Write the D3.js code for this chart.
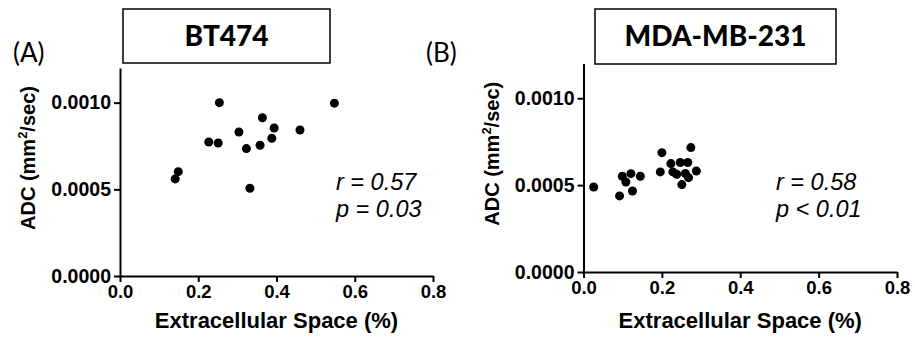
<!DOCTYPE html>
<html>
<head>
<meta charset="utf-8">
<script src="https://cdn.jsdelivr.net/npm/d3@7"></script>
<style>
  body { margin: 0; background: #fff; }
  svg { display: block; }
  .axis path, .axis line { stroke: #000; stroke-width: 2; }
  .axis text { font-family: "Liberation Sans", Arial, sans-serif; font-weight: bold; fill: #000; }
</style>
</head>
<body>
<svg id="chart"></svg>
<script>
// BT474 points (extracellular space fraction, ADC mm^2/sec)
const bt474X = [0.254, 0.364, 0.394, 0.304, 0.227, 0.251, 0.388, 0.358, 0.323, 0.149, 0.141, 0.332, 0.548, 0.460];
const bt474Y = [0.00100, 0.000913, 0.000854, 0.000831, 0.000773, 0.000767, 0.000795, 0.000754, 0.000735, 0.000602, 0.000560, 0.000506, 0.000997, 0.000842];

// MDA-MB-231 points
const mdaX = [0.026, 0.092, 0.099, 0.108, 0.121, 0.125, 0.145, 0.200, 0.274, 0.223, 0.247, 0.266, 0.196, 0.228, 0.238, 0.260, 0.288, 0.268, 0.251];
const mdaY = [0.000489, 0.000438, 0.000551, 0.000518, 0.000566, 0.000466, 0.000551, 0.000687, 0.000716, 0.000624, 0.000630, 0.000630, 0.000576, 0.000576, 0.000562, 0.000567, 0.000581, 0.000543, 0.000503];

const xTicks = [0, 0.2, 0.4, 0.6, 0.8];
const yTicks = [0, 0.0005, 0.0010];
const xDomain = [0, 0.8];
const yDomain = [0, 0.0012];

const panels = [
  { letter: "(A)", title: "BT474", xs: bt474X, ys: bt474Y, stats: ["r = 0.57", "p = 0.03"],
    left: 120, top: 68, right: 433, bottom: 276,
    box: [123, 9, 330, 63], letterX: 13, statX: 336, ylabX: 28 },
  { letter: "(B)", title: "MDA-MB-231", xs: mdaX, ys: mdaY, stats: ["r = 0.58", "p < 0.01"],
    left: 583.5, top: 63.5, right: 897, bottom: 272,
    box: [595, 9, 836, 64], letterX: 426, statX: 776, ylabX: 492 }
];

function getConfig(){
  let width = 915;
  let height = 339;
  let container = d3.select("#chart")
    .attr("width", width)
    .attr("height", height);
  return { width, height, container };
}

function getScales(p){
  let xScale = d3.scaleLinear().domain(xDomain).range([p.left, p.right]);
  let yScale = d3.scaleLinear().domain(yDomain).range([p.bottom, p.top]);
  return { xScale, yScale };
}

function drawPanel(p, config){
  let { container } = config;
  let { xScale, yScale } = getScales(p);
  let g = container.append("g");

  let axisX = d3.axisBottom(xScale)
    .tickValues(xTicks)
    .tickFormat(d3.format(".1f"))
    .tickSize(6)
    .tickPadding(3)
    .tickSizeOuter(0);
  g.append("g")
    .attr("class", "axis")
    .attr("transform", `translate(0,${p.bottom})`)
    .call(axisX)
    .selectAll("text").style("font-size", "18.5px");

  let axisY = d3.axisLeft(yScale)
    .tickValues(yTicks)
    .tickFormat(d3.format(".4f"))
    .tickSize(6)
    .tickPadding(3)
    .tickSizeOuter(0);
  g.append("g")
    .attr("class", "axis")
    .attr("transform", `translate(${p.left},0)`)
    .call(axisY)
    .selectAll("text").style("font-size", "19.5px");

  // points
  let pts = p.xs.map((x, i) => ({ x: x, y: p.ys[i] }));
  g.append("g")
    .selectAll("circle")
    .data(pts)
    .enter().append("circle")
    .attr("cx", d => xScale(d.x))
    .attr("cy", d => yScale(d.y))
    .attr("r", 4.5)
    .attr("fill", "#000");

  // axis titles
  g.append("text")
    .attr("x", (p.left + p.right) / 2)
    .attr("y", 328)
    .attr("text-anchor", "middle")
    .style("font-family", "Liberation Sans, Arial, sans-serif")
    .style("font-weight", "bold")
    .style("font-size", "22px")
    .text("Extracellular Space (%)");

  let yl = g.append("text")
    .attr("transform", `translate(${p.ylabX + 7},${(p.top + p.bottom) / 2 - 14}) rotate(-90)`)
    .attr("text-anchor", "middle")
    .style("font-family", "Liberation Sans, Arial, sans-serif")
    .style("font-weight", "bold")
    .style("font-size", "20px");
  yl.append("tspan").text("ADC (mm");
  yl.append("tspan").attr("dy", -8).style("font-size", "13px").text("2");
  yl.append("tspan").attr("dy", 8).text("/sec)");

  // stats
  g.selectAll(".stat")
    .data(p.stats)
    .enter().append("text")
    .attr("x", p.statX)
    .attr("y", (d, i) => 190 + i * 27)
    .style("font-family", "Liberation Sans, Arial, sans-serif")
    .style("font-style", "italic")
    .style("font-size", "23.5px")
    .text(d => d);

  // title box
  let [bx0, by0, bx1, by1] = p.box;
  g.append("rect")
    .attr("x", bx0).attr("y", by0)
    .attr("width", bx1 - bx0).attr("height", by1 - by0)
    .attr("fill", "none")
    .attr("stroke", "#000")
    .attr("stroke-width", 1.5);
  g.append("text")
    .attr("x", (bx0 + bx1) / 2)
    .attr("y", 46)
    .attr("text-anchor", "middle")
    .style("font-family", "Lato, sans-serif")
    .style("font-weight", "900")
    .style("font-size", "28px")
    .text(p.title);

  // panel letter
  g.append("text")
    .attr("x", p.letterX)
    .attr("y", 62)
    .style("font-family", "Lato, sans-serif")
    .style("font-size", "26px")
    .text(p.letter);
}

let config = getConfig();
panels.forEach(p => drawPanel(p, config));
</script>
</body>
</html>
